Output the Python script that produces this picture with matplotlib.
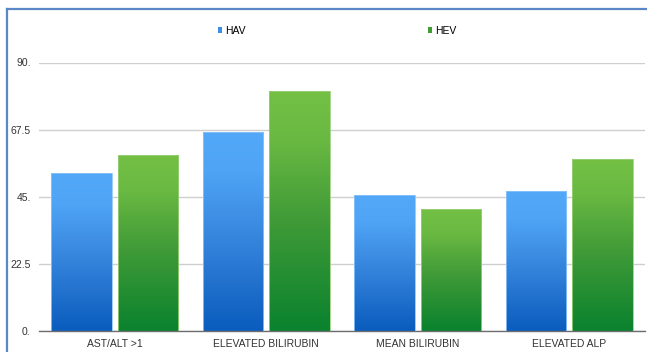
import numpy as np
import matplotlib.pyplot as plt
from matplotlib.colors import LinearSegmentedColormap
from matplotlib.patches import Patch
from matplotlib.lines import Line2D

plt.rcParams['font.family'] = ['Liberation Sans', 'DejaVu Sans']

categories = ["AST/ALT >1", "ELEVATED BILIRUBIN", "MEAN BILIRUBIN", "ELEVATED ALP"]
hav = [52.8, 66.8, 45.7, 46.8]
hev = [59.0, 80.6, 40.9, 57.8]
yticks = [0, 22.5, 45, 67.5, 90]
ytick_labels = ["0.", "22.5", "45.", "67.5", "90."]

W, H = 647, 352
fig = plt.figure(figsize=(W / 100, H / 100), dpi=100)
ax = fig.add_axes([39 / W, 21 / H, (645 - 39) / W, (331 - 62.5) / H])

blue_cm = LinearSegmentedColormap.from_list(
    "b", [(0, "#0A5CBD"), (0.45, "#3584DC"), (0.8, "#4FA4F5"), (1, "#53A9F8")])
green_cm = LinearSegmentedColormap.from_list(
    "g", [(0, "#0A822E"), (0.45, "#3F9A37"), (0.8, "#6AB942"), (1, "#74C045")])

x = np.arange(len(categories))
w = 0.4
off = 0.22
grad = np.linspace(0, 1, 256).reshape(-1, 1)


def gradient_bars(xs, vals, cmap, edge):
    bars = ax.bar(xs, vals, w, facecolor="none", edgecolor=edge, linewidth=0.6, zorder=3)
    for b in bars:
        x0, y0 = b.get_x(), b.get_y()
        im = ax.imshow(grad, cmap=cmap, origin="lower", aspect="auto",
                       extent=[x0, x0 + b.get_width(), y0, y0 + b.get_height()],
                       zorder=2)
        im.set_clip_path(b)
    return bars


gradient_bars(x - off, hav, blue_cm, "#8cc4fa")
gradient_bars(x + off, hev, green_cm, "#9ad07a")

ax.set_xlim(-0.5, len(categories) - 0.5)
ax.set_ylim(0, 90)
ax.set_yticks(yticks)
ax.set_yticklabels(ytick_labels)
ax.set_xticks(x)
ax.set_xticklabels(categories)
ax.tick_params(axis="both", length=0, labelsize=7.5, colors="#333333")
ax.tick_params(axis="y", pad=6)
ax.tick_params(axis="x", pad=6)
ax.yaxis.grid(True, color="#cfcfcf", linewidth=1)
ax.set_axisbelow(True)
for s in ["top", "right", "left"]:
    ax.spines[s].set_visible(False)
ax.spines["bottom"].set_color("#6e6e6e")
ax.spines["bottom"].set_linewidth(1)

handles = [Patch(facecolor="#3c8fe8"), Patch(facecolor="#3f9e32")]
fig.legend(handles, ["HAV", "HEV"], loc="center", ncol=2,
           bbox_to_anchor=(337 / W, 1 - 31 / H), frameon=False,
           fontsize=7.5, handlelength=0.45, handleheight=0.45,
           handletextpad=0.25, columnspacing=17.5)

# blue frame (top and left edges visible)
fig.add_artist(Line2D([7 / W, 1], [1 - 9 / H, 1 - 9 / H], color="#5a88c6", linewidth=1.6))
fig.add_artist(Line2D([7 / W, 7 / W], [0, 1 - 9 / H], color="#5a88c6", linewidth=1.6))

fig.savefig("out.png", dpi=100)
